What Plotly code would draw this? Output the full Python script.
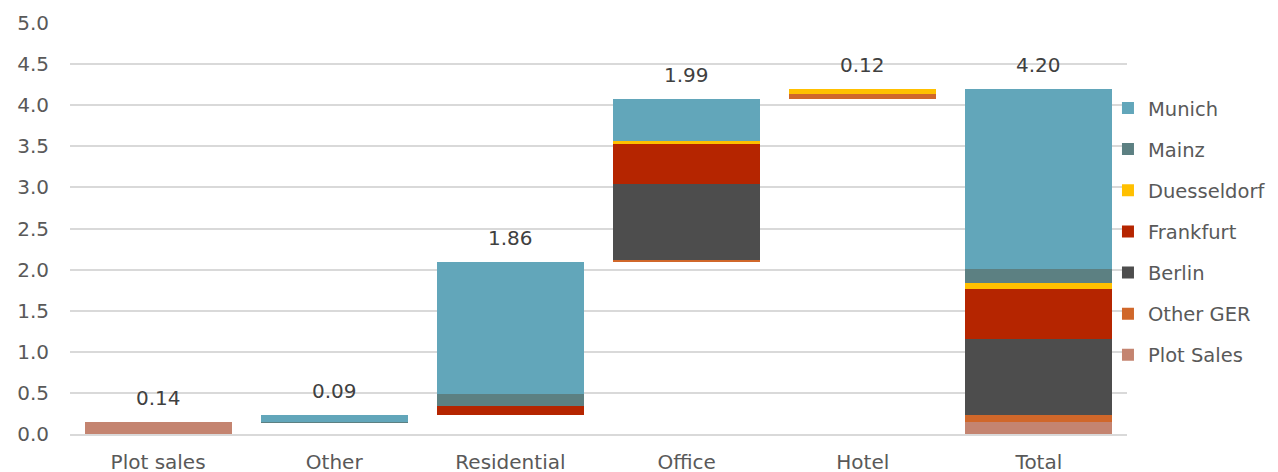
import plotly.graph_objects as go

categories = ["Plot sales", "Other", "Residential", "Office", "Hotel", "Total"]
base = [0, 0.14, 0.23, 2.09, 4.08, 0]
totals = [0.14, 0.09, 1.86, 1.99, 0.12, 4.20]

plot_sales = [0.14, 0, 0, 0, 0, 0.14]
other_ger = [0, 0, 0, 0.03, 0.06, 0.09]
berlin = [0, 0, 0, 0.92, 0, 0.92]
frankfurt = [0, 0, 0.11, 0.50, 0, 0.61]
duesseldorf = [0, 0, 0, 0.02, 0.06, 0.08]
mainz = [0, 0.005, 0.15, 0, 0, 0.17]
munich = [0, 0.085, 1.60, 0.52, 0, 2.19]

series = [
    ("Plot Sales", plot_sales, "#C48470"),
    ("Other GER", other_ger, "#D0672A"),
    ("Berlin", berlin, "#4D4D4D"),
    ("Frankfurt", frankfurt, "#B52500"),
    ("Duesseldorf", duesseldorf, "#FFC000"),
    ("Mainz", mainz, "#5C8082"),
    ("Munich", munich, "#62A6BA"),
]

FONT = "DejaVu Sans, Verdana, sans-serif"
GREY = "#595959"
FS = 20

fig = go.Figure()
fig.add_trace(go.Bar(x=categories, y=base, marker_color="rgba(0,0,0,0)",
                     marker_line_width=0, showlegend=False, hoverinfo="skip"))
n = len(series)
for i, (name, vals, col) in enumerate(series):
    fig.add_trace(go.Bar(x=categories, y=vals, name=name, marker_color=col,
                         marker_line_width=0, legendgroup=name,
                         legendrank=n - i))

for c, b, t in zip(categories, base, totals):
    fig.add_annotation(x=c, y=b + t, text=f"{t:.2f}", showarrow=False,
                       yanchor="bottom", yshift=10,
                       font=dict(family=FONT, size=FS, color="#404040"))

fig.update_layout(
    barmode="stack", bargap=0.165,
    width=1270, height=472,
    margin=dict(l=62, r=151, t=15, b=46, autoexpand=False),
    paper_bgcolor="white", plot_bgcolor="white",
    font=dict(family=FONT, size=FS, color=GREY),
    legend=dict(x=0.982, xanchor="left", y=0.84, yanchor="top",
                traceorder="grouped", tracegroupgap=12.8,
                font=dict(family=FONT, size=19.5, color=GREY),
                bgcolor="rgba(0,0,0,0)"),
    showlegend=True,
)
fig.update_yaxes(range=[0, 5], dtick=0.5, tickformat=".1f", automargin=False,
                 gridcolor="#D9D9D9", gridwidth=1.5, zeroline=False,
                 ticks="outside", tickcolor="rgba(0,0,0,0)", ticklen=16,
                 tickfont=dict(family=FONT, size=FS, color=GREY))
fig.update_xaxes(showline=True, linecolor="#D9D9D9", linewidth=1.5,
                 automargin=False,
                 ticks="outside", tickcolor="rgba(0,0,0,0)", ticklen=9,
                 tickfont=dict(family=FONT, size=FS, color=GREY))

fig.write_html("out.html")
